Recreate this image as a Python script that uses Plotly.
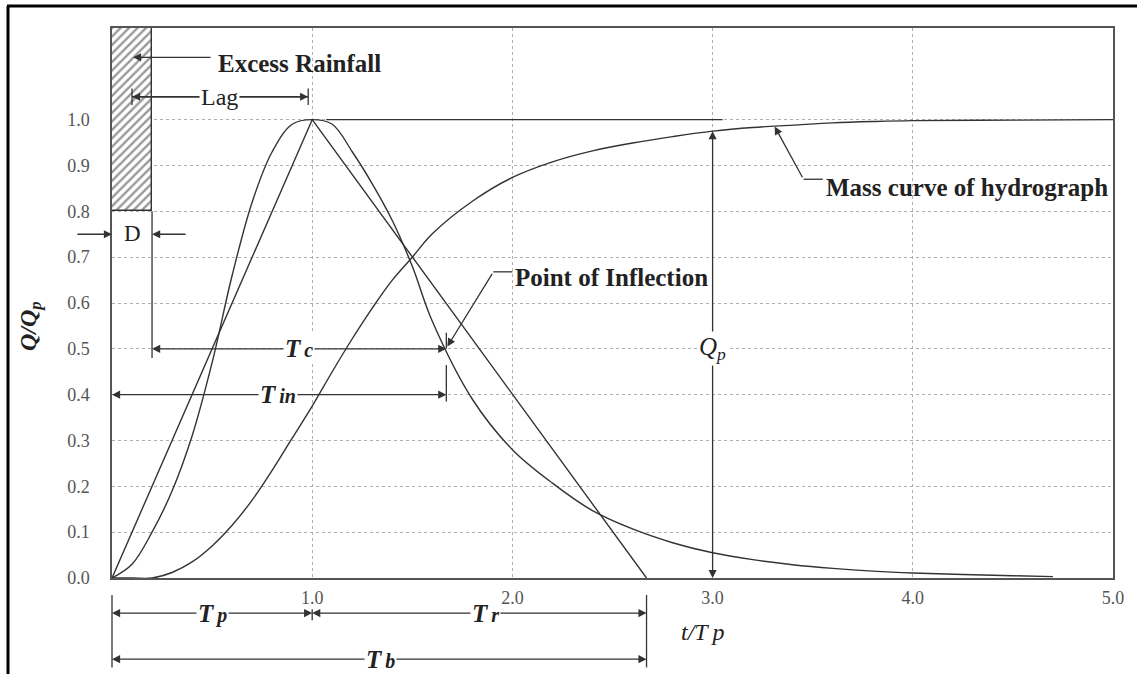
import plotly.graph_objects as go

# ---------------- data ----------------
uh_t = [0.0, 0.1, 0.2, 0.3, 0.4, 0.5, 0.6, 0.7, 0.8, 0.9, 1.0, 1.1, 1.2, 1.3, 1.4,
        1.5, 1.6, 1.8, 2.0, 2.2, 2.4, 2.6, 2.8, 3.0, 3.2, 3.4, 3.6, 3.8, 4.0, 4.5, 4.7]
uh_q = [0.0, 0.03, 0.10, 0.19, 0.31, 0.47, 0.66, 0.82, 0.93, 0.99, 1.00, 0.99, 0.93,
        0.86, 0.78, 0.68, 0.56, 0.39, 0.28, 0.207, 0.147, 0.107, 0.077, 0.055, 0.040,
        0.029, 0.021, 0.015, 0.011, 0.005, 0.003]

mass_t = [0.0, 0.1, 0.2, 0.3, 0.4, 0.5, 0.6, 0.7, 0.8, 0.9, 1.0, 1.1, 1.2, 1.3, 1.4,
          1.5, 1.6, 1.8, 2.0, 2.2, 2.4, 2.6, 2.8, 3.0, 3.2, 3.4, 3.6, 3.8, 4.0, 4.5, 5.0]
mass_q = [0.0, 0.0, 0.0, 0.012, 0.035, 0.07, 0.115, 0.170, 0.235, 0.305, 0.375, 0.450,
          0.522, 0.589, 0.650, 0.700, 0.751, 0.822, 0.874, 0.908, 0.932, 0.949, 0.963,
          0.975, 0.983, 0.988, 0.993, 0.996, 0.998, 0.999, 1.0]

tri_t = [0.0, 1.0, 2.67]
tri_q = [0.0, 1.0, 0.0]

rain_center = [0.1]
rain_width = 0.2
rain_base = [0.8]
rain_height = [0.4]

x_tickvals = [1, 2, 3, 4, 5]
x_ticktext = ["1.0", "2.0", "3.0", "4.0", "5.0"]
y_tickvals = [0.0, 0.1, 0.2, 0.3, 0.4, 0.5, 0.6, 0.7, 0.8, 0.9, 1.0]
y_ticktext = ["0.0", "0.1", "0.2", "0.3", "0.4", "0.5", "0.6", "0.7", "0.8", "0.9", "1.0"]

T_PEAK = 1.0
T_BASE = 2.67
T_INFL = 1.67
D_END = 0.2

# ---------------- geometry helpers ----------------
XMAX, YMAX = 5.0, 1.2
ML, MR, MT, MB = 112, 24, 28, 96
W, H = 1137, 674
PW, PH = W - ML - MR, H - MT - MB
PXX, PXY = PW / XMAX, PH / YMAX

LINE = "#333333"
SERIF = "Liberation Serif"


def px(x):
    return x / XMAX


def py(y):
    return y / YMAX


shapes = []
annotations = []


def seg(x0, y0, x1, y1, paper=False, width=1.3, color=LINE):
    if paper:
        shapes.append(dict(type="line", xref="paper", yref="paper", x0=px(x0), y0=py(y0),
                           x1=px(x1), y1=py(y1), line=dict(color=color, width=width)))
    else:
        shapes.append(dict(type="line", xref="x", yref="y", x0=x0, y0=y0, x1=x1, y1=y1,
                           line=dict(color=color, width=width)))


def arrow(xh, yh, xt, yt, paper=False):
    common = dict(text=" ", showarrow=True, arrowhead=2, arrowsize=1.25, arrowwidth=1.3,
                  arrowcolor=LINE, standoff=0, startstandoff=0,
                  font=dict(size=1))
    if paper:
        annotations.append(dict(xref="paper", yref="paper", x=px(xh), y=py(yh),
                                axref="pixel", ayref="pixel",
                                ax=(xt - xh) * PXX, ay=-(yt - yh) * PXY, **common))
    else:
        annotations.append(dict(xref="x", yref="y", x=xh, y=yh, axref="x", ayref="y",
                                ax=xt, ay=yt, **common))


def label(text, x, y, size=22, paper=False, xanchor="center", bg=None, color="#222",
          angle=0):
    d = dict(text=text, x=px(x) if paper else x, y=py(y) if paper else y,
             xref="paper" if paper else "x", yref="paper" if paper else "y",
             showarrow=False, xanchor=xanchor, yanchor="middle", textangle=angle,
             font=dict(family=SERIF, size=size, color=color), borderpad=1)
    if bg:
        d["bgcolor"] = bg
    annotations.append(d)


def tsub(letter):
    return "<b><i>T<span style='font-size:20px'>\u2009" + letter + "</span></i></b>"


# ---------------- figure ----------------
fig = go.Figure()

fig.add_trace(go.Bar(x=rain_center, y=rain_height, base=rain_base, width=rain_width,
                     marker=dict(color="white", line=dict(color="#333", width=1.4),
                                 pattern=dict(shape="/", fgcolor="#333", bgcolor="white",
                                              size=6, solidity=0.4)),
                     hoverinfo="skip", showlegend=False))

fig.add_trace(go.Scatter(x=tri_t, y=tri_q, mode="lines",
                         line=dict(color=LINE, width=1.4), showlegend=False))
fig.add_trace(go.Scatter(x=uh_t, y=uh_q, mode="lines",
                         line=dict(color=LINE, width=1.4, shape="spline", smoothing=1.0),
                         showlegend=False))
fig.add_trace(go.Scatter(x=mass_t, y=mass_q, mode="lines",
                         line=dict(color=LINE, width=1.4, shape="spline", smoothing=1.0),
                         showlegend=False))

# peak reference line
seg(1.07, 1.0, 3.05, 1.0)

# Excess rainfall
arrow(0.105, 1.136, 0.5, 1.136)
label("<b>Excess Rainfall</b>", 0.52, 1.122, size=25, xanchor="left")

# Lag
seg(0.1, 1.05, 0.98, 1.05)
arrow(0.1, 1.05, 0.5, 1.05)
arrow(0.98, 1.05, 0.6, 1.05)
seg(0.1, 1.032, 0.1, 1.068)
seg(0.98, 1.032, 0.98, 1.068)
label("Lag", 0.535, 1.05, size=24, bg="white")

# D
arrow(0.0, 0.75, -0.18, 0.75)
arrow(D_END, 0.75, 0.375, 0.75)
label("D", 0.1, 0.752, size=23)
seg(D_END, 0.8, D_END, 0.48)

# Tc
arrow(D_END, 0.5, 0.935, 0.5)
arrow(T_INFL, 0.5, 0.935, 0.5)
seg(T_INFL, 0.5, T_INFL, 0.535)
label(tsub("c"), 0.935, 0.5, size=25, bg="white")

# Tin
arrow(0.0, 0.4, 0.83, 0.4)
arrow(T_INFL, 0.4, 0.83, 0.4)
seg(T_INFL, 0.385, T_INFL, 0.465)
label(tsub("in"), 0.83, 0.4, size=25, bg="white")

# Point of inflection
seg(2.0, 0.668, 1.905, 0.668)
arrow(T_INFL + 0.005, 0.505, 1.905, 0.668)
label("<b>Point of Inflection</b>", 2.005, 0.655, size=25, xanchor="left")

# Qp
arrow(3.0, 0.975, 3.0, 0.5)
arrow(3.0, 0.0, 3.0, 0.5)
label("<i>Q<sub>p</sub></i>", 3.0, 0.5, size=25, bg="white")

# Mass curve leader
seg(3.55, 0.87, 3.454, 0.87)
arrow(3.31, 0.985, 3.454, 0.87)
label("<b>Mass curve of hydrograph</b>", 3.555, 0.852, size=25, xanchor="left")

# bottom dimension lines (outside plot area)
seg(0.0, -0.037, 0.0, -0.195, paper=True)
seg(T_BASE, -0.037, T_BASE, -0.195, paper=True)
seg(T_PEAK, -0.068, T_PEAK, -0.092, paper=True)
arrow(0.0, -0.0766, 0.5, -0.0766, paper=True)
arrow(T_PEAK, -0.0766, 0.5, -0.0766, paper=True)
arrow(T_PEAK, -0.0766, 1.865, -0.0766, paper=True)
arrow(T_BASE, -0.0766, 1.865, -0.0766, paper=True)
arrow(0.0, -0.177, 1.34, -0.177, paper=True)
arrow(T_BASE, -0.177, 1.34, -0.177, paper=True)
label(tsub("p"), 0.5, -0.0766, size=25, paper=True, bg="white")
label(tsub("r"), 1.865, -0.0766, size=25, paper=True, bg="white")
label(tsub("b"), 1.34, -0.177, size=25, paper=True, bg="white")

# axis titles
label("<i>t/T\u2009p</i>", 2.95, -0.118, size=24, paper=True)
annotations.append(dict(text="<b><i>Q/Q<sub>p</sub></i></b>", xref="paper", yref="paper",
                        x=(30 - ML) / PW, y=(H - MB - 326) / PH, showarrow=False,
                        textangle=-90, xanchor="center", yanchor="middle",
                        font=dict(family=SERIF, size=24, color="#222")))

# outer frame (top and left edges)
shapes.append(dict(type="line", xref="paper", yref="paper",
                   x0=(7 - ML) / PW, x1=(W - ML) / PW,
                   y0=(H - MB - 6) / PH, y1=(H - MB - 6) / PH,
                   line=dict(color="black", width=3)))
shapes.append(dict(type="line", xref="paper", yref="paper",
                   x0=(8 - ML) / PW, x1=(8 - ML) / PW,
                   y0=(H - MB - 6) / PH, y1=(H - MB - H - 2) / PH,
                   line=dict(color="black", width=3)))

fig.update_layout(
    width=W, height=H,
    margin=dict(l=ML, r=MR, t=MT, b=MB, pad=0),
    paper_bgcolor="white", plot_bgcolor="white",
    showlegend=False, bargap=0,
    shapes=shapes, annotations=annotations,
    xaxis=dict(range=[0, XMAX], tickvals=x_tickvals, ticktext=x_ticktext,
               showgrid=True, gridcolor="#b0b0b0", griddash="dot", gridwidth=1,
               showline=True, linecolor="#555", linewidth=1.5, mirror=True,
               ticks="", ticklabelstandoff=3, zeroline=False, fixedrange=True,
               tickfont=dict(family=SERIF, size=18, color="#555")),
    yaxis=dict(range=[0, YMAX], tickvals=y_tickvals, ticktext=y_ticktext,
               showgrid=True, gridcolor="#b0b0b0", griddash="dot", gridwidth=1,
               showline=True, linecolor="#555", linewidth=1.5, mirror=True,
               ticks="", ticklabelstandoff=17, zeroline=False, fixedrange=True,
               tickfont=dict(family=SERIF, size=18, color="#555")),
)

fig.write_html("out.html", config={"displayModeBar": False},
               post_script="document.body.style.margin='0';")
